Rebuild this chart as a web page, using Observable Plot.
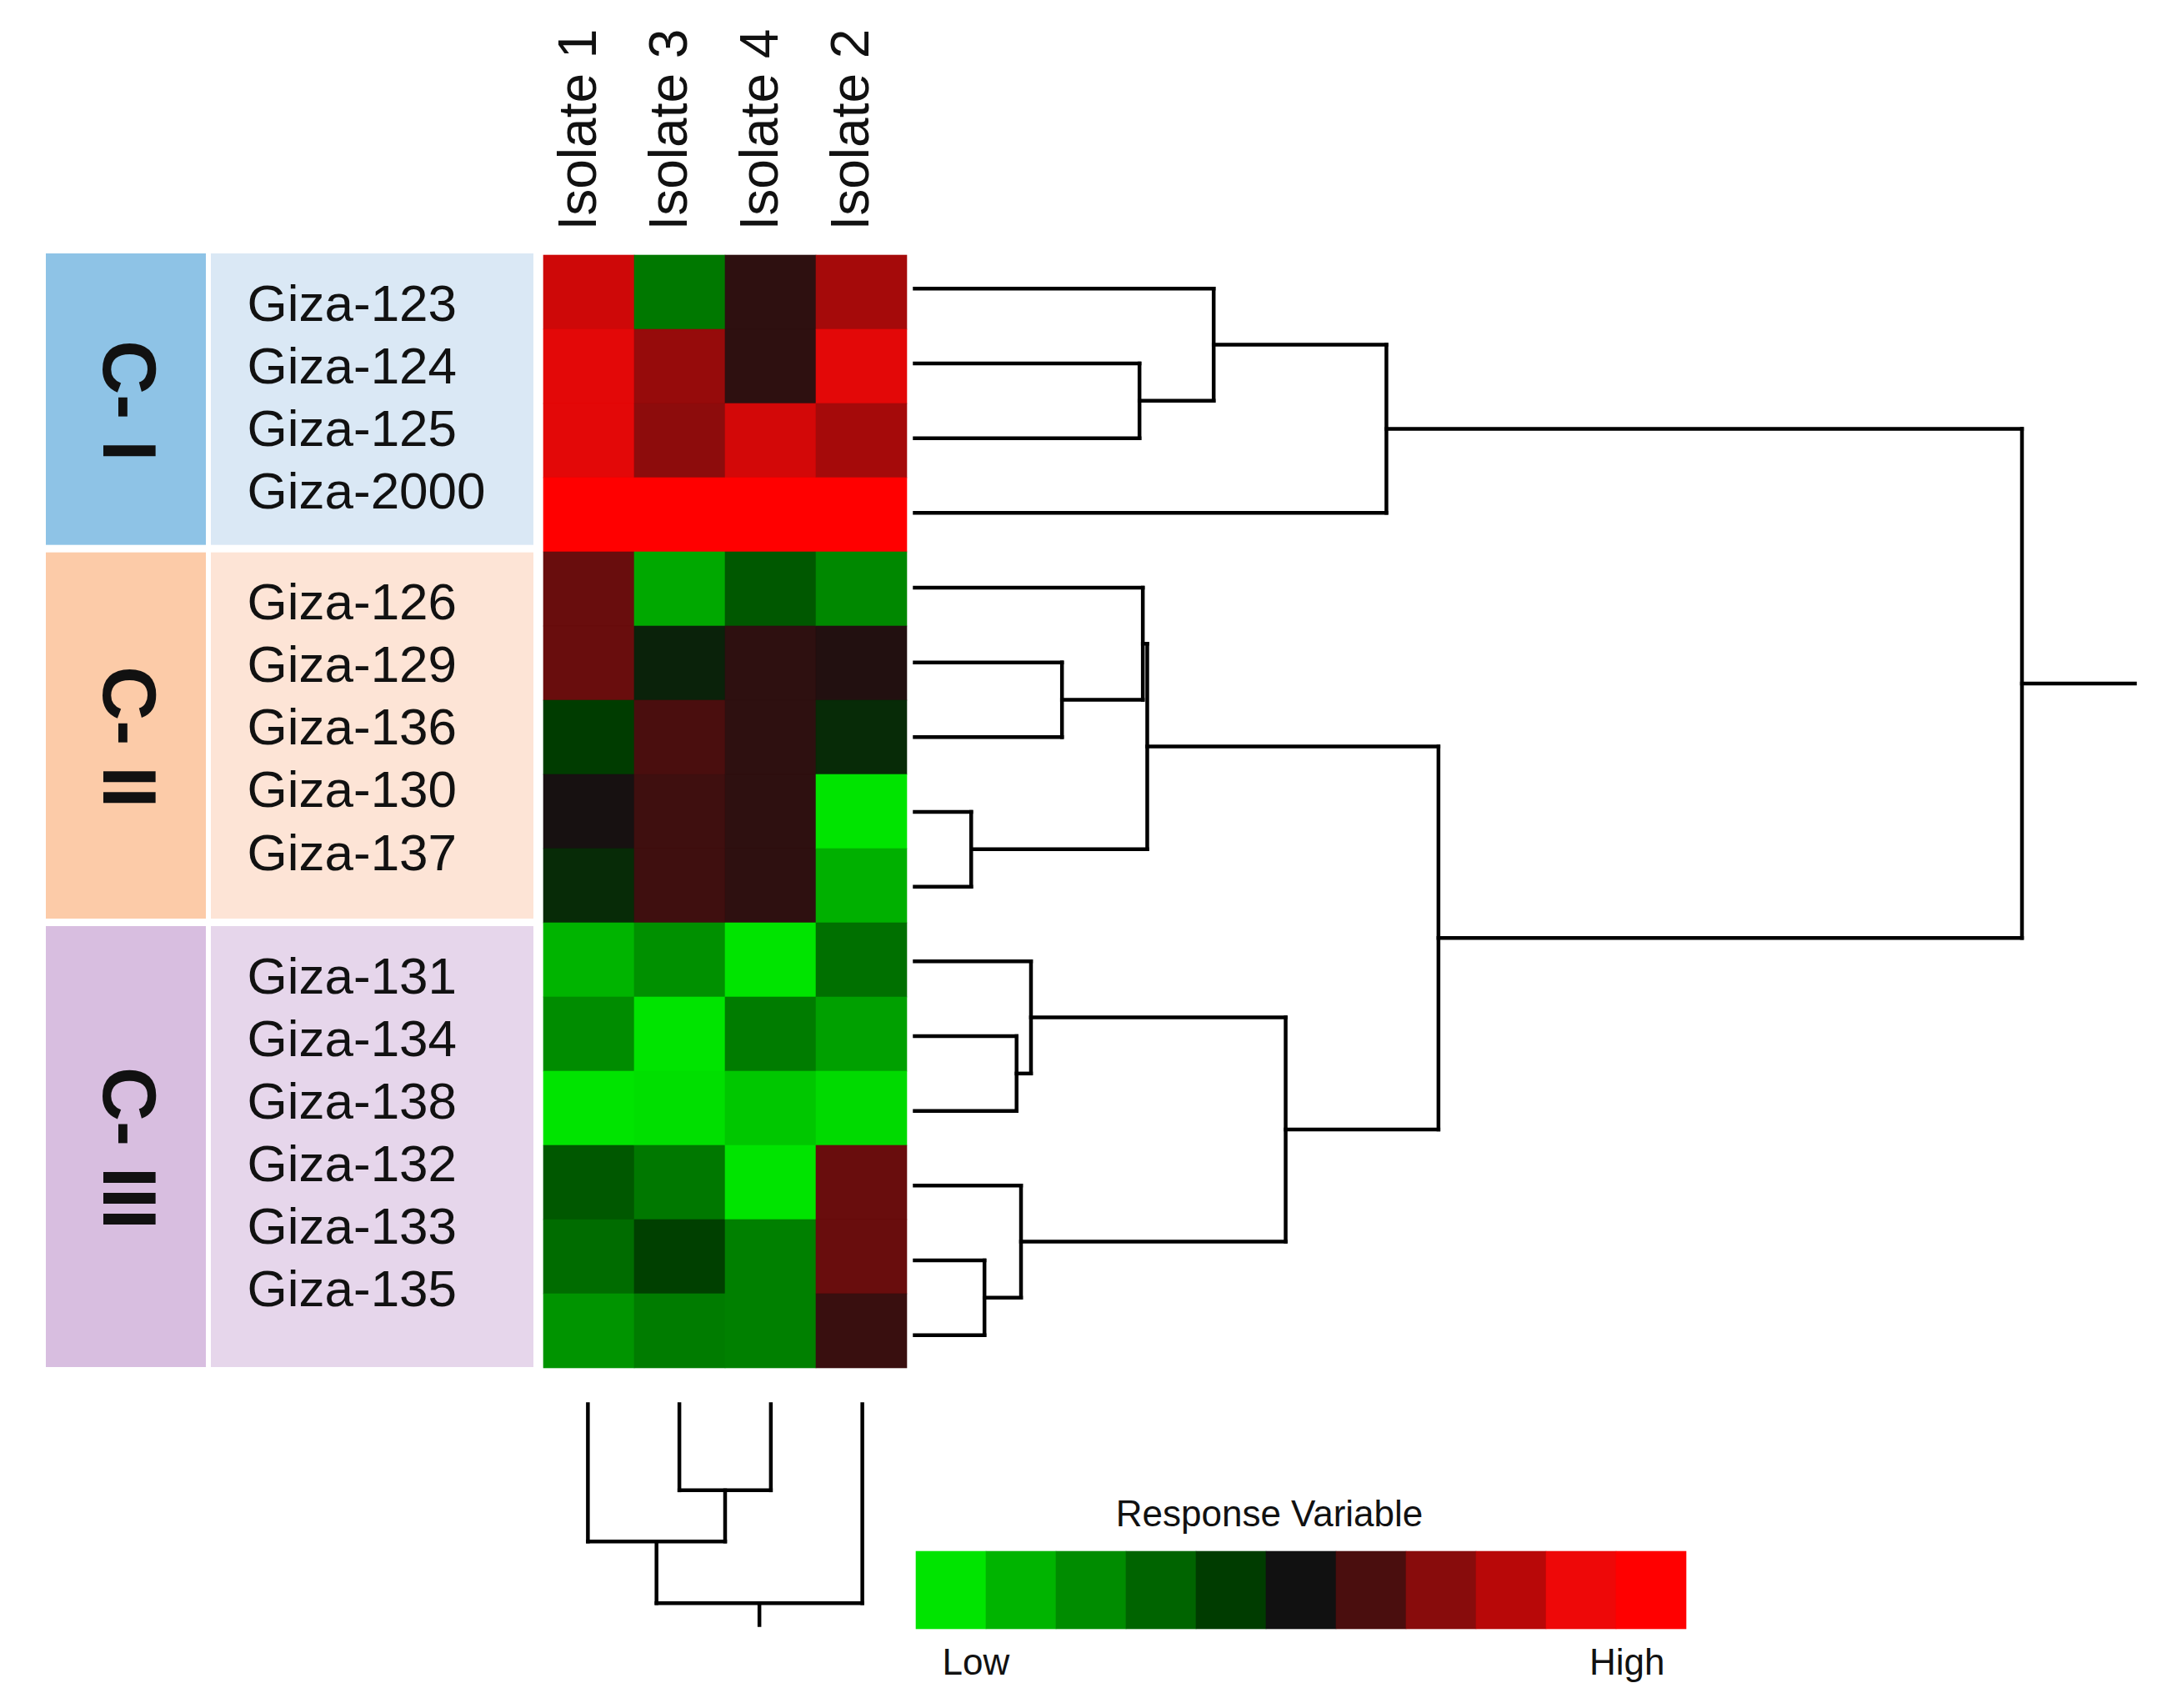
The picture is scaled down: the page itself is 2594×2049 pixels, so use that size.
<!DOCTYPE html>
<html>
<head>
<meta charset="utf-8">
<script src="https://cdn.jsdelivr.net/npm/d3@7"></script>
<script src="https://cdn.jsdelivr.net/npm/@observablehq/plot@0.6"></script>
<style>
  html, body { margin: 0; padding: 0; background: #fff; }
  #root { position: relative; width: 2594px; height: 2049px; background: #fff; overflow: hidden; }
  #root > * { position: absolute; }
  #root svg { overflow: visible; max-width: none; }
</style>
</head>
<body>
<div id="root"></div>
<script>
// ---------------- DATA ----------------
const isolates = ["Isolate 1", "Isolate 3", "Isolate 4", "Isolate 2"];
const cultivars = [
  "Giza-123", "Giza-124", "Giza-125", "Giza-2000",
  "Giza-126", "Giza-129", "Giza-136", "Giza-130", "Giza-137",
  "Giza-131", "Giza-134", "Giza-138", "Giza-132", "Giza-133", "Giza-135"
];
// response level per cultivar (0 = Low ... 10 = High), one array per isolate
const isolate1 = [8.4, 8.8, 8.8, 10, 6.5, 6.5, 4.0, 5.1, 4.4, 1.0, 2.0, 0.0, 3.3, 2.8, 1.8];
const isolate3 = [2.5, 7.3, 7.1, 10, 1.3, 4.6, 6.0, 5.8, 5.8, 1.9, 0.0, 0.1, 2.5, 3.9, 2.4];
const isolate4 = [5.5, 5.5, 8.5, 10, 3.3, 5.5, 5.5, 5.5, 5.5, 0.0, 2.4, 0.6, 0.0, 2.3, 2.3];
const isolate2 = [7.6, 8.8, 7.6, 10, 2.1, 5.3, 4.4, 0.0, 1.1, 2.7, 1.5, 0.2, 6.5, 6.5, 5.7];

// clusters of cultivars
const groupNames = ["C- I", "C- II", "C- III"];
const groupSizes = [4, 5, 6];
const groupDark = ["#8ec3e6", "#fccba8", "#d8bee0"];
const groupLight = ["#dae8f5", "#fde4d6", "#e6d6eb"];

// legend steps (Low -> High) and their colours
const legendSteps = [0, 1, 2, 3, 4, 5, 6, 7, 8, 9, 10];
const legendColors = ["#00e400", "#00b400", "#008c00", "#006400", "#003c00", "#111111",
                      "#4a0e0e", "#880c0c", "#b80808", "#ee0808", "#ff0000"];

// row dendrogram merges: [child A, child B, height]; strings = leaves, numbers = earlier merge (1-based)
const rowMerges = [
  ["Giza-130", "Giza-137", 0.51],  // 1
  ["Giza-133", "Giza-135", 0.63],  // 2
  ["Giza-134", "Giza-138", 0.92],  // 3
  ["Giza-132", 2, 0.96],           // 4
  ["Giza-131", 3, 1.05],           // 5
  ["Giza-129", "Giza-136", 1.33],  // 6
  ["Giza-124", "Giza-125", 2.03],  // 7
  ["Giza-126", 6, 2.06],           // 8
  [8, 1, 2.10],                    // 9
  ["Giza-123", 7, 2.70],           // 10
  [5, 4, 3.35],                    // 11
  [10, "Giza-2000", 4.26],         // 12
  [9, 11, 4.73],                   // 13
  [12, 13, 10.0]                   // 14
];
const rowRootStub = 1.02;
// column dendrogram merges
const colMerges = [
  ["Isolate 3", "Isolate 4", 4.33],
  ["Isolate 1", 1, 6.9],
  [2, "Isolate 2", 10.0]
];
const colRootStub = 1.1;

// ---------------- HELPERS ----------------
const FONT = "'Liberation Sans', Arial, Helvetica, sans-serif";
const root = document.getElementById("root");
function place(el, left, top) {
  el.style.left = left + "px";
  el.style.top = top + "px";
  root.appendChild(el);
}
function dendro(order, merges, stub) {
  const pos = new Map(order.map((n, i) => [n, i + 0.5]));
  const nodes = [];
  const get = k => typeof k === "string" ? {p: pos.get(k), h: 0} : nodes[k - 1];
  const segs = [];
  for (const [a, b, h] of merges) {
    const A = get(a), B = get(b);
    segs.push({p1: A.p, h1: A.h, p2: A.p, h2: h});
    segs.push({p1: B.p, h1: B.h, p2: B.p, h2: h});
    segs.push({p1: A.p, h1: h, p2: B.p, h2: h});
    nodes.push({p: (A.p + B.p) / 2, h});
  }
  const r = nodes[nodes.length - 1];
  segs.push({p1: r.p, h1: r.h, p2: r.p, h2: r.h + stub});
  return segs;
}

// ---------------- LEFT PANEL (clusters + cultivar names) ----------------
const groups = [];
{
  let start = 0;
  groupNames.forEach((name, i) => {
    groups.push({
      name, start, end: start + groupSizes[i],
      dark: groupDark[i], light: groupLight[i],
      members: cultivars.slice(start, start + groupSizes[i]).join("\n")
    });
    start += groupSizes[i];
  });
}
const left = Plot.plot({
  width: 585, height: 1345,
  marginTop: 0, marginBottom: 0, marginLeft: 0, marginRight: 0,
  style: {fontFamily: FONT, background: "transparent"},
  x: {domain: [0, 3], range: [0, 585], axis: null},
  y: {domain: [0, cultivars.length], range: [0, 1345], axis: null},
  color: {type: "identity"},
  marks: [
    Plot.rect(groups, {x1: 0, x2: 1, y1: "start", y2: "end", fill: d => d.dark,
      insetRight: 3, insetTop: 3, insetBottom: 6}),
    Plot.rect(groups, {x1: 1, x2: 3, y1: "start", y2: "end", fill: d => d.light,
      insetLeft: 3, insetTop: 3, insetBottom: 6}),
    Plot.text(groups, {x: 0.5, y: d => (d.start + d.end) / 2, text: "name", rotate: 90,
      fontSize: 90, fontWeight: "bold", fill: "#111"}),
    Plot.text(groups, {x: 1, y: "start", text: "members", textAnchor: "start",
      lineAnchor: "top", lineHeight: 1.21, fontSize: 62, dx: 46, dy: 30, fill: "#111"})
  ]
});
place(left, 55, 301);

// ---------------- HEATMAP ----------------
const cols = [isolate1, isolate3, isolate4, isolate2];
const cells = [];
isolates.forEach((iso, j) => cultivars.forEach((c, i) => cells.push({isolate: iso, cultivar: c, value: cols[j][i]})));
const colorScale = {type: "linear", domain: legendSteps, range: legendColors, interpolate: "rgb"};

const heat = Plot.plot({
  width: 439, height: 1646,
  marginTop: 301, marginBottom: 0, marginLeft: 0, marginRight: 0,
  style: {fontFamily: FONT, background: "transparent", color: "#111"},
  x: {domain: isolates, padding: 0, axis: null},
  y: {domain: cultivars, padding: 0, axis: null},
  color: colorScale,
  marks: [
    Plot.cell(cells, {x: "isolate", y: "cultivar", fill: "value", stroke: "value", strokeWidth: 0.6, inset: 0}),
    Plot.axisX({anchor: "top", tickRotate: -90, fontSize: 64, tickSize: 0, tickPadding: 25, dx: -12, label: null})
  ]
});
place(heat, 650, 0);

// ---------------- ROW DENDROGRAM ----------------
const rowSegs = dendro(cultivars, rowMerges, rowRootStub);
const rowDen = Plot.plot({
  width: 1464, height: 1345,
  marginTop: 0, marginBottom: 0, marginLeft: 0, marginRight: 0,
  style: {background: "transparent"},
  x: {domain: [0, 10 + rowRootStub], range: [0, 1464], axis: null},
  y: {domain: [0, cultivars.length], range: [0, 1345], axis: null},
  marks: [
    Plot.link(rowSegs, {x1: "h1", y1: "p1", x2: "h2", y2: "p2", stroke: "#000", strokeWidth: 4.5, strokeLinecap: "square"})
  ]
});
place(rowDen, 1097, 301);

// ---------------- COLUMN DENDROGRAM ----------------
const colSegs = dendro(isolates, colMerges, colRootStub);
const colDen = Plot.plot({
  width: 439, height: 265,
  marginTop: 0, marginBottom: 0, marginLeft: 0, marginRight: 0,
  style: {background: "transparent"},
  x: {domain: [0, isolates.length], range: [0, 439], axis: null},
  y: {domain: [0, 10 + colRootStub], range: [0, 265], axis: null},
  marks: [
    Plot.link(colSegs, {x1: "p1", y1: "h1", x2: "p2", y2: "h2", stroke: "#000", strokeWidth: 4.5, strokeLinecap: "square"})
  ]
});
place(colDen, 650, 1684);

// ---------------- LEGEND ----------------
const legend = Plot.plot({
  width: 925, height: 254,
  marginTop: 81, marginBottom: 80, marginLeft: 0, marginRight: 0,
  style: {fontFamily: FONT, background: "transparent", color: "#111"},
  x: {domain: legendSteps, padding: 0, axis: null},
  color: colorScale,
  marks: [
    Plot.cell(legendSteps, {x: d => d, fill: d => d, stroke: d => d, strokeWidth: 0.6, inset: 0}),
    Plot.text(["Response Variable"], {frameAnchor: "top", dx: -38, dy: -62, fontSize: 44, fill: "#111"}),
    Plot.text(["Low"], {frameAnchor: "bottom-left", textAnchor: "start", dx: 32, dy: 54, fontSize: 44, fill: "#111"}),
    Plot.text(["High"], {frameAnchor: "bottom-right", textAnchor: "end", dx: -26, dy: 54, fontSize: 44, fill: "#111"})
  ]
});
place(legend, 1098, 1780);
</script>
</body>
</html>
